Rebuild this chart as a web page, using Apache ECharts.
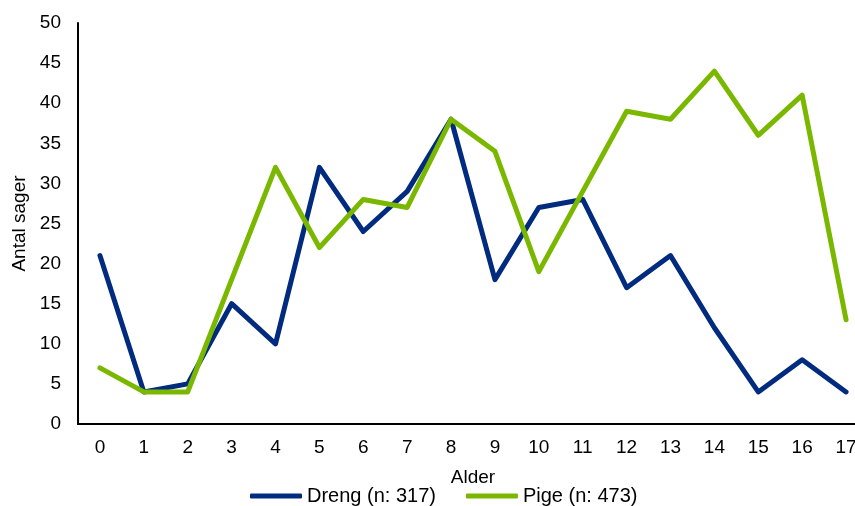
<!DOCTYPE html>
<html><head><meta charset="utf-8">
<script src="https://cdn.jsdelivr.net/npm/echarts@6/dist/echarts.min.js"></script>
<style>html,body{margin:0;padding:0;background:#fff}#c{width:855px;height:506px}</style>
</head><body><div id="c"></div>
<script>
const categories = ['0','1','2','3','4','5','6','7','8','9','10','11','12','13','14','15','16','17'];
const drengValues = [21,4,5,15,10,32,24,29,38,18,27,28,17,21,12,4,8,4];
const pigeValues = [7,4,4,18,32,22,28,27,38,34,19,29,39,38,44,36,41,13];
const seriesNames = ['Dreng (n: 317)','Pige (n: 473)'];
const chart = echarts.init(document.getElementById('c'));
const font = 'Liberation Sans, Arial, sans-serif';
chart.setOption({
  animation:false,
  textStyle:{fontFamily:font},
  grid:{left:78,width:790,top:23,height:401,outerBoundsMode:'none',containLabel:false},
  legend:{top:481,left:245,itemWidth:52,itemHeight:5,itemGap:30,icon:'roundRect',
    textStyle:{fontSize:20,color:'#000',fontFamily:font},data:seriesNames},
  xAxis:{type:'category',data:categories,boundaryGap:true,name:'Alder',nameLocation:'middle',nameGap:44,
    nameTextStyle:{fontSize:19,color:'#000'},
    axisLine:{lineStyle:{color:'#000',width:2}},axisTick:{show:false},
    axisLabel:{fontSize:19,color:'#000',margin:14}},
  yAxis:{type:'value',min:0,max:50,interval:5,name:'Antal sager',nameLocation:'middle',nameGap:48,
    nameTextStyle:{fontSize:19,color:'#000'},
    axisLine:{show:true,lineStyle:{color:'#000',width:2}},axisTick:{show:false},splitLine:{show:false},
    axisLabel:{fontSize:19,color:'#000',margin:17}},
  series:[
    {name:seriesNames[0],type:'line',data:drengValues,symbol:'none',lineStyle:{color:'#002b7f',width:5,cap:'round',join:'round'},itemStyle:{color:'#002b7f'}},
    {name:seriesNames[1],type:'line',data:pigeValues,symbol:'none',lineStyle:{color:'#7ab800',width:5,cap:'round',join:'round'},itemStyle:{color:'#7ab800'}}
  ]
});
</script></body></html>
